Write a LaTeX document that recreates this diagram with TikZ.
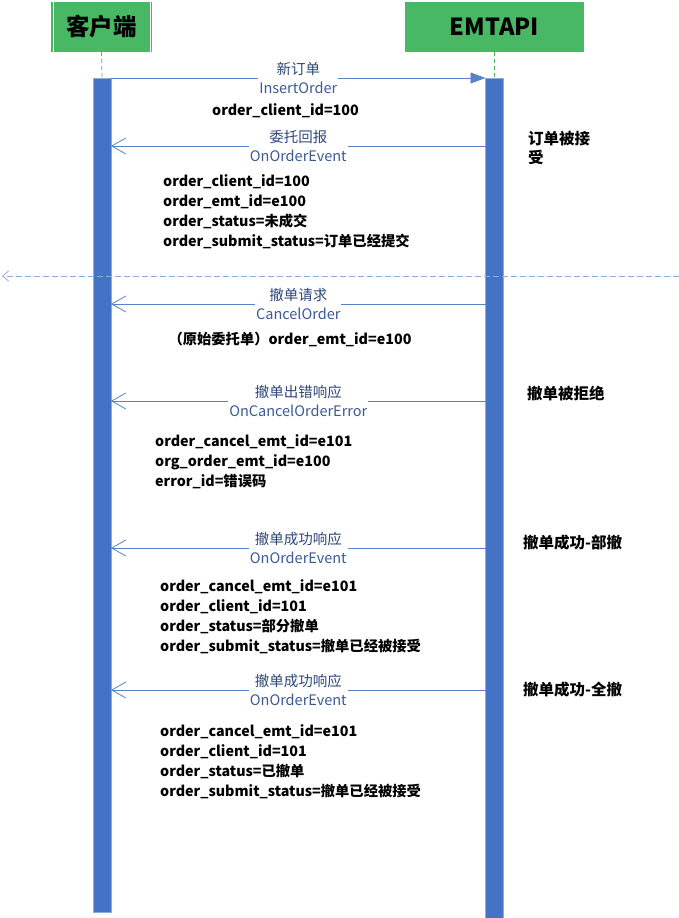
\documentclass[tikz,border=0pt]{standalone}
\usepackage{fontspec}
\setmainfont{Noto Sans CJK SC}
\usetikzlibrary{arrows.meta}
\definecolor{hdrgreen}{RGB}{72,184,100}
\definecolor{barblue}{RGB}{68,114,196}
\definecolor{lineblue}{RGB}{90,128,200}
\definecolor{sepblue}{RGB}{143,170,220}
\definecolor{lblcn}{RGB}{47,72,122}
\definecolor{lblen}{RGB}{60,90,150}
\tikzset{
  hdr/.style={fill=hdrgreen, draw=none, inner sep=0pt, font=\bfseries\fontsize{23.5}{26}\selectfont, text=black},
  bar/.style={fill=barblue, draw=barblue!60, line width=0.5pt, inner sep=0pt, minimum width=18pt},
  life/.style={draw=hdrgreen, dashed, line width=0.8pt, dash pattern=on 4pt off 3pt},
  msg/.style={draw=lineblue, line width=0.8pt},
  reqtip/.style={-{Triangle[length=15pt,width=11pt]}},
  rsptip/.style={-{Straight Barb[length=14pt,width=16pt,line width=0.8pt]}},
  mlabel/.style={fill=white, inner xsep=1pt, inner ysep=0pt, align=center, font=\fontsize{14.5}{19}\selectfont},
  info/.style={anchor=base west, align=left, inner sep=0pt, font=\bfseries\fontsize{14.3}{20}\selectfont},
  note/.style={anchor=base west, align=left, inner sep=0pt, font=\bfseries\fontsize{15.5}{19}\selectfont},
}
\newcommand{\cn}[1]{\textcolor{lblcn}{#1}}
\newcommand{\en}[1]{\textcolor{lblen}{#1}}
\begin{document}
\begin{tikzpicture}[x=1pt,y=-1pt]
\useasboundingbox (0,0) rectangle (679,918);
% headers
\node[hdr, minimum width=101pt, minimum height=50pt] (client) at (101.5,27) {客户端};
\draw[white, line width=0.8pt] (53,2) -- (53,52) (150,2) -- (150,52);
\node[hdr, minimum width=179pt, minimum height=50pt] (api) at (494.5,27) {EMTAPI};
% bars
\node[bar, minimum height=834pt, anchor=north] (lbar) at (102,78) {};
\node[bar, minimum height=840pt, anchor=north] (rbar) at (494.5,78) {};
\draw[life] (client.south) -- (lbar.north);
\draw[life] (api.south) -- (rbar.north);
% anchor coordinates
\coordinate (l1) at (111,78);   \coordinate (r1) at (485.5,78);
\coordinate (l2) at (111,146);  \coordinate (r2) at (485.5,146);
\coordinate (l3) at (111,304);  \coordinate (r3) at (485.5,304);
\coordinate (l4) at (111,401);  \coordinate (r4) at (485.5,401);
\coordinate (l5) at (111,548);  \coordinate (r5) at (485.5,548);
\coordinate (l6) at (111,690);  \coordinate (r6) at (485.5,690);
\coordinate (sepR) at (679,276); \coordinate (sepL) at (2,276);
% messages
\draw[msg, reqtip] (l1) -- (r1) node[mlabel, midway] (m1) {\cn{新订单}\\\en{InsertOrder}};
\draw[msg, rsptip] (r2) -- (l2) node[mlabel, midway] (m2) {\cn{委托回报}\\\en{OnOrderEvent}};
\draw[draw=sepblue, line width=0.8pt, dash pattern=on 6pt off 3pt, -{Straight Barb[length=6pt,width=10pt,line width=0.8pt]}] (sepR) -- (sepL);
\draw[msg, rsptip] (r3) -- (l3) node[mlabel, midway] (m3) {\cn{撤单请求}\\\en{CancelOrder}};
\draw[msg, rsptip] (r4) -- (l4) node[mlabel, midway] (m4) {\cn{撤单出错响应}\\\en{OnCancelOrderError}};
\draw[msg, rsptip] (r5) -- (l5) node[mlabel, midway] (m5) {\cn{撤单成功响应}\\\en{OnOrderEvent}};
\draw[msg, rsptip] (r6) -- (l6) node[mlabel, midway] (m6) {\cn{撤单成功响应}\\\en{OnOrderEvent}};
% info blocks (anchor = baseline of last line)
\node[info] (i1) at (212,115) {order\_client\_id=100};
\node[info] (i2) at (163,246) {order\_client\_id=100\\order\_emt\_id=e100\\order\_status=未成交\\order\_submit\_status=订单已经提交};
\node[info, anchor=base] (i3) at (290,344) {（原始委托单）order\_emt\_id=e100};
\node[info] (i4) at (155,486) {order\_cancel\_emt\_id=e101\\org\_order\_emt\_id=e100\\error\_id=错误码};
\node[info] (i5) at (160,651) {order\_cancel\_emt\_id=e101\\order\_client\_id=101\\order\_status=部分撤单\\order\_submit\_status=撤单已经被接受};
\node[info] (i6) at (160,796) {order\_cancel\_emt\_id=e101\\order\_client\_id=101\\order\_status=已撤单\\order\_submit\_status=撤单已经被接受};
% notes
\node[note] (n1) at (528,163) {订单被接\\受};
\node[note] (n2) at (527,399) {撤单被拒绝};
\node[note] (n3) at (523,548) {撤单成功-部撤};
\node[note] (n4) at (523,695) {撤单成功-全撤};
\end{tikzpicture}
\end{document}
